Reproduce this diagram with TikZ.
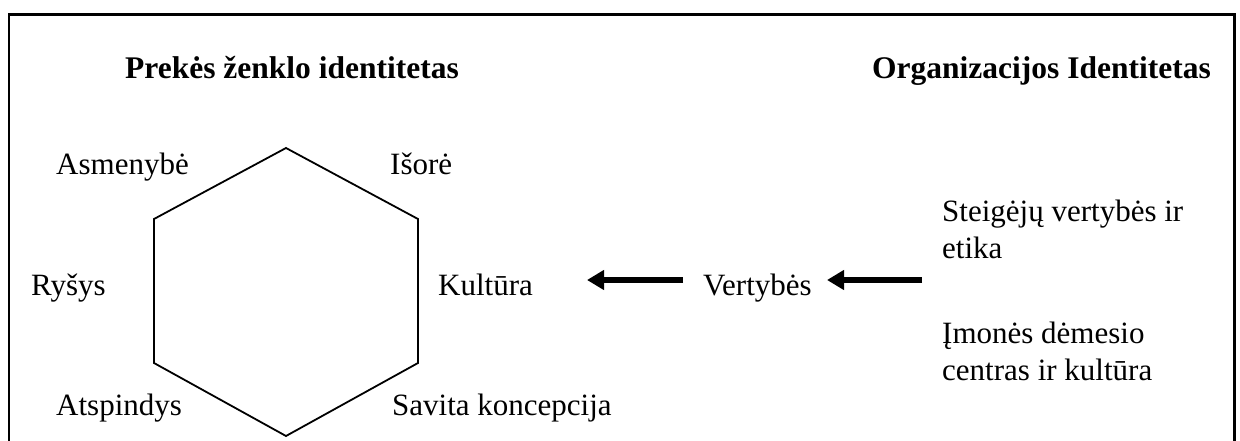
\documentclass[tikz,border=0pt]{standalone}
\usepackage{fontspec}
\setmainfont{Liberation Serif}
\usetikzlibrary{arrows.meta}
\begin{document}
\begin{tikzpicture}[x=1pt,y=-1pt,
  lbl/.style={anchor=base west,inner sep=0pt,font=\fontsize{31pt}{36pt}\selectfont},
  ttl/.style={inner sep=0pt,font=\fontsize{31.5pt}{36pt}\selectfont\bfseries},
  bigarrow/.style={line width=5.5pt,-{Triangle[length=17pt,width=19pt]}},
  frame/.style={line width=2.2pt},
  hexline/.style={line width=1.8pt,line join=miter}]
\useasboundingbox (0,0) rectangle (1240,441);
% frame (open at bottom)
\draw[frame] (9,460) -- (9,14.5) -- (1234.5,14.5) -- (1234.5,460);
% titles
\node[ttl,anchor=base] (t1) at (292,79) {Prekės ženklo identitetas};
\node[ttl,anchor=base east] (t2) at (1211,79) {Organizacijos Identitetas};
% hexagon
\coordinate (h1) at (286,148);
\coordinate (h2) at (418,219);
\coordinate (h3) at (418,363);
\coordinate (h4) at (286,436);
\coordinate (h5) at (154,363);
\coordinate (h6) at (154,219);
\draw[hexline] (h1) -- (h2) -- (h3) -- (h4) -- (h5) -- (h6) -- cycle;
% labels around hexagon
\node[lbl] (asm) at (56,175) {Asmenybė};
\node[lbl] (iso) at (390,175) {Išorė};
\node[lbl] (rys) at (31,295) {Ryšys};
\node[lbl] (kul) at (438,295) {Kultūra};
\node[lbl] (ats) at (56,415) {Atspindys};
\node[lbl] (sav) at (392,415) {Savita koncepcija};
% middle
\node[lbl] (ver) at (703,295) {Vertybės};
% right side
\node[lbl] (st1) at (942,222) {Steigėjų vertybės ir};
\node[lbl] (st2) at (942,258) {etika};
\node[lbl] (im1) at (942,343) {Įmonės dėmesio};
\node[lbl] (im2) at (942,380) {centras ir kultūra};
% arrows
\coordinate (a1s) at (683,280);
\coordinate (a1e) at (587,280);
\coordinate (a2s) at (922,280);
\coordinate (a2e) at (827,280);
\draw[bigarrow] (a1s) -- (a1e);
\draw[bigarrow] (a2s) -- (a2e);
\end{tikzpicture}
\end{document}
